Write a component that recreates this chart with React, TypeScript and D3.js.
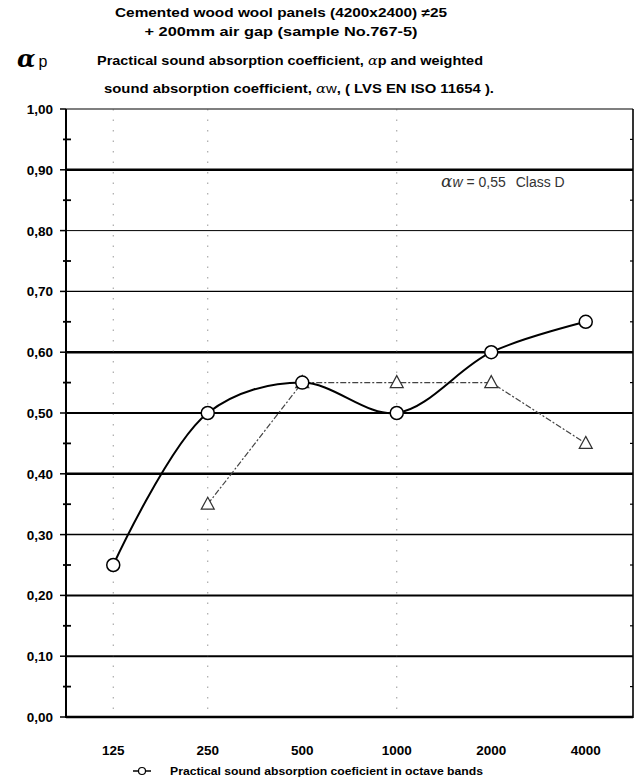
import React from "react";
import * as d3 from "d3";

const categories = ["125", "250", "500", "1000", "2000", "4000"];
const practical = [0.25, 0.5, 0.55, 0.5, 0.6, 0.65];
const referenceCats = ["250", "500", "1000", "2000", "4000"];
const referenceVals = [0.35, 0.55, 0.55, 0.55, 0.45];
const yTicks = [0, 0.1, 0.2, 0.3, 0.4, 0.5, 0.6, 0.7, 0.8, 0.9, 1.0];
const minorTicks = [0.05, 0.15, 0.25, 0.35, 0.45, 0.55, 0.65, 0.75, 0.85, 0.95];
const gridWidths = [2.5, 2, 2, 1.5, 2.4, 2, 2.4, 1.4, 1, 2.4, 1.2];
const dottedCats = ["125", "250", "1000"];

const W = 642;
const H = 783;
const left = 66;
const right = 633;
const top = 109;
const bottom = 717;

export default function App() {
  const x = d3.scaleBand<string>().domain(categories).range([left, right]).padding(0);
  const cx = (c: string) => (x(c) as number) + x.bandwidth() / 2;
  const y = d3.scaleLinear().domain([0, 1]).range([bottom, top]);

  const lineGen = d3
    .line<number>()
    .x((_, i) => cx(categories[i]))
    .y((d) => y(d))
    .curve(d3.curveCatmullRom.alpha(0.5));
  const refGen = d3
    .line<number>()
    .x((_, i) => cx(referenceCats[i]))
    .y((d) => y(d));

  const fmt = (v: number) => v.toFixed(2).replace(".", ",");
  const tri = (px: number, py: number) =>
    `M${px},${py - 7}L${px + 6.5},${py + 5}L${px - 6.5},${py + 5}Z`;
  const bold = { fontFamily: "Liberation Sans, Arial, sans-serif", fontWeight: 700 } as const;

  return (
    <svg width={W} height={H} style={{ position: "absolute", left: 0, top: 0, background: "#fff" }}>
      <rect x={0} y={0} width={W} height={H} fill="#fff" />
      {/* titles */}
      <text x={281} y={17} textAnchor="middle" fontSize={12.5} {...bold} textLength={332} lengthAdjust="spacingAndGlyphs">
        Cemented wood wool panels (4200x2400) ≠25
      </text>
      <text x={281} y={36} textAnchor="middle" fontSize={12.5} {...bold} textLength={273} lengthAdjust="spacingAndGlyphs">
        + 200mm air gap (sample No.767-5)
      </text>
      <text x={17} y={67} fontSize={24} fontFamily="DejaVu Serif, serif" fontStyle="italic" fontWeight={700} fill="#000">
        α<tspan dx={3} fontSize={16} fontStyle="normal" fontWeight={400} fontFamily="Liberation Sans, Arial, sans-serif">p</tspan>
      </text>
      <text x={97} y={65} fontSize={12.5} {...bold} textLength={386} lengthAdjust="spacingAndGlyphs">
        Practical sound absorption coefficient,{" "}
        <tspan fontFamily="DejaVu Serif, serif" fontStyle="italic" fontWeight={400}>α</tspan>p and weighted
      </text>
      <text x={104} y={93} fontSize={12.5} {...bold} textLength={390} lengthAdjust="spacingAndGlyphs">
        sound absorption coefficient,{" "}
        <tspan fontFamily="DejaVu Serif, serif" fontStyle="italic" fontWeight={400}>α</tspan>
        <tspan fontWeight={400}>w</tspan>, ( LVS EN ISO 11654 ).
      </text>

      {/* gridlines */}
      {yTicks.map((t, i) => (
        <line key={"g" + i} x1={left} x2={right} y1={y(t)} y2={y(t)} stroke="#000" strokeWidth={gridWidths[i]} />
      ))}
      {/* faint dotted verticals */}
      {dottedCats.map((c) => (
        <line key={"d" + c} x1={cx(c)} x2={cx(c)} y1={top} y2={bottom} stroke="#555" strokeWidth={1} strokeDasharray="1.5 9" opacity={0.6} />
      ))}
      {/* axes */}
      <line x1={left} x2={left} y1={top} y2={bottom + 1} stroke="#000" strokeWidth={2} />
      <line x1={right} x2={right} y1={top} y2={bottom + 1} stroke="#000" strokeWidth={1.6} />
      {yTicks.map((t, i) => (
        <g key={"t" + i}>
          <line x1={left - 6} x2={left} y1={y(t)} y2={y(t)} stroke="#000" strokeWidth={1.5} />
          <text x={53} y={y(t) + 5} textAnchor="end" fontSize={13.5} {...bold}>
            {fmt(t)}
          </text>
        </g>
      ))}
      {minorTicks.map((t, i) => (
        <g key={"m" + i}>
          <line x1={left - 3} x2={left + 5} y1={y(t)} y2={y(t)} stroke="#000" strokeWidth={1.8} />
          <line x1={right - 3} x2={right} y1={y(t)} y2={y(t)} stroke="#000" strokeWidth={1.2} />
        </g>
      ))}
      {categories.map((c) => (
        <text key={"x" + c} x={cx(c)} y={755} textAnchor="middle" fontSize={13.5} {...bold}>
          {c}
        </text>
      ))}

      {/* annotation */}
      <text x={441} y={187} fontSize={14} fontFamily="Liberation Sans, Arial, sans-serif" fill="#333">
        <tspan fontFamily="DejaVu Serif, serif" fontStyle="italic" fontSize={17}>α</tspan>
        <tspan fontStyle="italic">w</tspan> = 0,55{"  "}
        <tspan dx={6}>Class D</tspan>
      </text>

      {/* reference dashed line with triangles */}
      <path d={refGen(referenceVals) || ""} fill="none" stroke="#444" strokeWidth={1.2} strokeDasharray="6 2 2 2" />
      {referenceVals.map((v, i) => (
        <path key={"tr" + i} d={tri(cx(referenceCats[i]), y(v))} fill="#fff" stroke="#333" strokeWidth={1.2} />
      ))}

      {/* practical curve */}
      <path d={lineGen(practical) || ""} fill="none" stroke="#000" strokeWidth={2} />
      {practical.map((v, i) => (
        <circle key={"c" + i} cx={cx(categories[i])} cy={y(v)} r={6.5} fill="#fff" stroke="#000" strokeWidth={1.5} />
      ))}

      {/* legend */}
      <line x1={133} x2={151} y1={771} y2={771} stroke="#000" strokeWidth={1.5} />
      <circle cx={142} cy={771} r={3.5} fill="#fff" stroke="#000" strokeWidth={1.2} />
      <text x={170} y={775} fontSize={10.5} fontFamily="Liberation Sans, Arial, sans-serif" fontWeight={700} textLength={313} lengthAdjust="spacingAndGlyphs">
        Practical sound absorption coeficient in octave bands
      </text>
    </svg>
  );
}
